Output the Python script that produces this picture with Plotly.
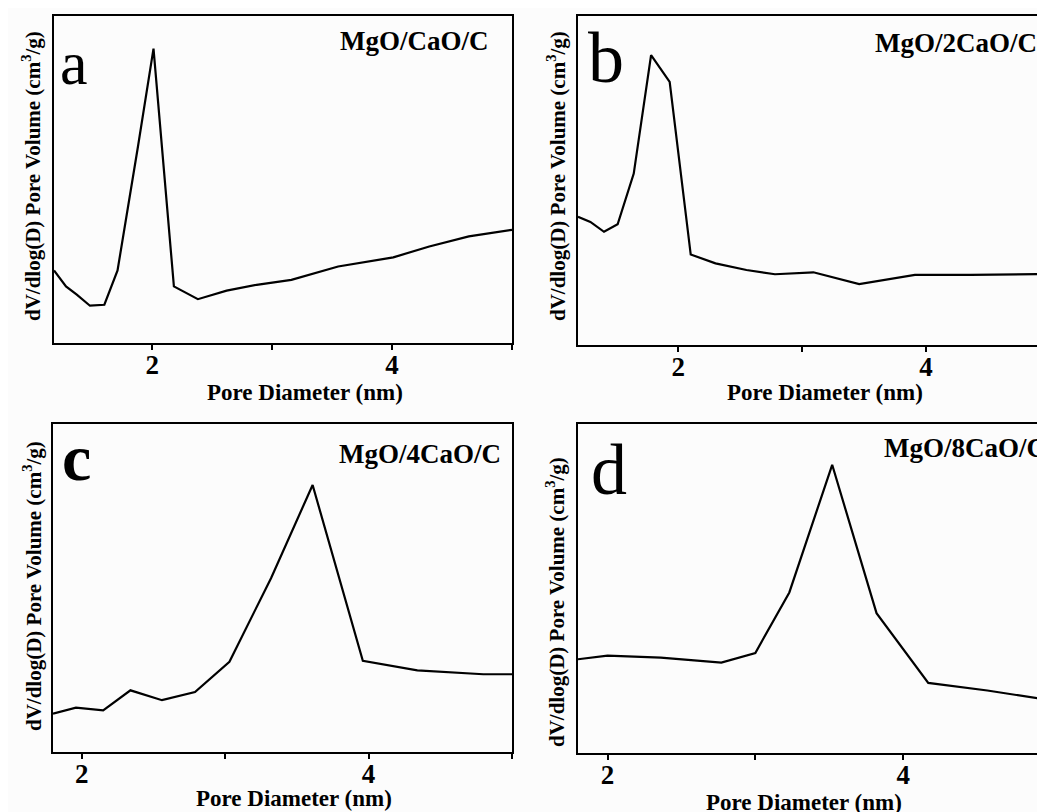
import plotly.graph_objects as go

# ---- data (arbitrary y units) ----
xa = [1.18, 1.28, 1.37, 1.48, 1.60, 1.71, 1.88, 2.01, 2.18, 2.38, 2.62, 2.87, 3.16, 3.55, 4.01, 4.31, 4.64, 5.00]
ya = [22.2, 17.3, 14.8, 11.4, 11.7, 22.2, 60.0, 90.0, 17.3, 13.4, 16.0, 17.8, 19.3, 23.4, 26.2, 29.5, 32.6, 34.6]

xb = [1.19, 1.29, 1.40, 1.51, 1.64, 1.78, 1.93, 2.10, 2.30, 2.55, 2.78, 3.09, 3.46, 3.91, 4.36, 5.00]
yb = [39.0, 37.4, 34.4, 36.7, 52.1, 88.1, 80.0, 27.5, 24.8, 22.8, 21.5, 22.1, 18.5, 21.3, 21.3, 21.6]

xc = [1.80, 1.96, 2.15, 2.34, 2.56, 2.79, 3.03, 3.32, 3.61, 3.96, 4.34, 4.80, 5.00]
yc = [11.7, 13.5, 12.7, 18.8, 15.8, 18.3, 27.5, 53.0, 81.4, 27.8, 24.9, 23.7, 23.7]

xd = [1.80, 2.00, 2.36, 2.77, 3.00, 3.23, 3.52, 3.82, 4.17, 4.57, 5.00]
yd = [28.5, 29.6, 29.0, 27.5, 30.4, 48.8, 87.6, 42.5, 21.3, 19.0, 16.0]

panel_letters = ["a", "b", "c", "d"]
sample_names = ["MgO/CaO/C", "MgO/2CaO/C", "MgO/4CaO/C", "MgO/8CaO/C"]
x_title = "Pore Diameter (nm)"
y_title = "dV/dlog(D) Pore Volume (cm<sup>3</sup>/g)"

OFF = 8                      # page body margin
W, H = 1045 - OFF, 812 - OFF
SERIF = "Times New Roman, Liberation Serif, serif"

def px(x):
    return (x - OFF) / W

def py(y):
    return 1 - (y - OFF) / H

# panel boxes in page pixels: (left, right, top, bottom), x range
boxes = [
    (54, 512, 16, 343, [1.18, 5.00]),
    (578, 1045, 16, 345, [1.19, 4.96]),
    (53, 512, 424, 752, [1.80, 5.00]),
    (578, 1045, 424, 753, [1.80, 4.96]),
]
series = [(xa, ya), (xb, yb), (xc, yc), (xd, yd)]

fig = go.Figure()
layout = dict(
    width=W, height=H,
    margin=dict(l=0, r=0, t=0, b=0),
    paper_bgcolor="#fcfcfc", plot_bgcolor="#fcfcfc",
    showlegend=False,
    font=dict(family=SERIF, color="black"),
)
annotations = []

for i, ((l, r, t, b, xr), (xs, ys)) in enumerate(zip(boxes, series)):
    sfx = "" if i == 0 else str(i + 1)
    fig.add_trace(go.Scatter(x=xs, y=ys, mode="lines",
                             line=dict(color="black", width=2.2),
                             xaxis="x" + sfx, yaxis="y" + sfx,
                             name=sample_names[i]))
    right_open = i in (1, 3)
    layout["xaxis" + sfx] = dict(
        domain=[px(l), min(px(r), 1.0)], range=xr, anchor="y" + sfx,
        showline=True, linecolor="black", linewidth=2, mirror=True,
        showgrid=False, zeroline=False,
        tickmode="linear", tick0=0, dtick=2,
        ticks="outside", ticklen=5, tickwidth=2, tickcolor="black",
        minor=dict(tickmode="linear", tick0=0, dtick=1, ticks="outside",
                   ticklen=5, tickwidth=2, tickcolor="black", showgrid=False),
        tickfont=dict(family=SERIF, size=27, color="black", weight="bold"),
        ticklabelstandoff=-8,
    )
    layout["yaxis" + sfx] = dict(
        domain=[py(b), py(t)], range=[0, 100], anchor="x" + sfx,
        showline=True, linecolor="black", linewidth=2,
        mirror=(not right_open),
        showgrid=False, zeroline=False, showticklabels=False, ticks="",
    )

# panel letters
letter_pos = [(58, 63, 62), (586, 58, 72), (60, 458, 66), (589, 470, 72)]
for (x, y, s), txt in zip(letter_pos, panel_letters):
    annotations.append(dict(text=txt, x=px(x), y=py(y), xref="paper", yref="paper",
                            xanchor="left", yanchor="middle", showarrow=False,
                            font=dict(family=SERIF, size=s, color="black",
                                      weight="bold" if txt == "c" else "normal")))

# sample names
name_pos = [(491, 41), (1039, 43), (503, 454), (1048, 448)]
for (x, y), txt in zip(name_pos, sample_names):
    annotations.append(dict(text=txt, x=px(x), y=py(y), xref="paper", yref="paper",
                            xanchor="right", yanchor="middle", showarrow=False,
                            font=dict(family=SERIF, size=27, color="black", weight="bold")))

# x titles
xt_pos = [(305, 392), (825, 392), (294, 798), (804, 802)]
for (x, y) in xt_pos:
    annotations.append(dict(text=x_title, x=px(x), y=py(y), xref="paper", yref="paper",
                            xanchor="center", yanchor="middle", showarrow=False,
                            font=dict(family=SERIF, size=23, color="black", weight="bold")))

# y titles
yt_pos = [(32, 176), (557, 176), (32, 586), (555, 602)]
for (x, y) in yt_pos:
    annotations.append(dict(text=y_title, x=px(x), y=py(y), xref="paper", yref="paper",
                            xanchor="center", yanchor="middle", showarrow=False, textangle=-90,
                            font=dict(family=SERIF, size=21, color="black", weight="bold")))

layout["annotations"] = annotations
fig.update_layout(**layout)
fig.write_html("out.html")
